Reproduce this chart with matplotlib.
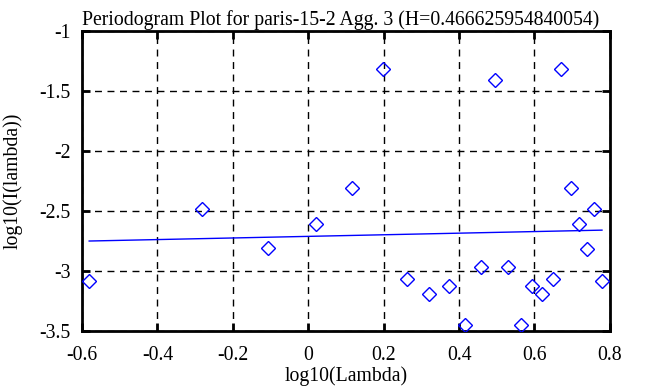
import numpy as np
import matplotlib
matplotlib.use("Agg")
import matplotlib.pyplot as plt

# periodogram points
log_lambda = [-0.581, -0.281, -0.106, 0.020, 0.116, 0.197, 0.261, 0.320, 0.372,
              0.417, 0.459, 0.496, 0.531, 0.563, 0.593, 0.620, 0.648, 0.671,
              0.696, 0.718, 0.739, 0.759, 0.779]
log_I = [-3.086, -2.483, -2.814, -2.608, -2.308, -1.317, -3.067, -3.194, -3.130,
         -3.455, -2.972, -1.413, -2.972, -3.455, -3.127, -3.194, -3.067, -1.317,
         -2.308, -2.608, -2.819, -2.483, -3.083]

H = 0.466625954840054
slope = 1 - 2 * H          # periodogram fit slope
intercept = -2.714

plt.rcParams["font.family"] = ["Liberation Serif", "DejaVu Serif"]
FS = 14.2

fig = plt.figure(figsize=(6.53, 3.87), dpi=100)
ax = fig.add_axes([0.1256, 0.1455, 0.934 - 0.1256, 0.9207 - 0.1455])

ax.plot(log_lambda, log_I, "D", mfc="none", mec="#0000ff", ms=7.5, mew=1.0, zorder=3)
xs = np.array([min(log_lambda), max(log_lambda)])
ax.plot(xs, intercept + slope * xs, color="#0000ff", lw=1.0, zorder=3)

ax.set_xlim(-0.6, 0.8); ax.set_ylim(-3.5, -1)
ax.set_xticks(np.arange(-0.6, 0.81, 0.2))
ax.set_yticks(np.arange(-3.5, -0.99, 0.5))
ax.set_xticklabels(["-0.6", "-0.4", "-0.2", "0", "0.2", "0.4", "0.6", "0.8"])
ax.set_yticklabels(["-3.5", "-3", "-2.5", "-2", "-1.5", "-1"])
ax.tick_params(direction="in", length=6, width=2, labelsize=FS, top=True, right=True)
ax.tick_params(axis="x", pad=11)
ax.tick_params(axis="y", pad=8)
for t in ax.get_yticklabels(): t.set_va("center_baseline")
ax.grid(True, color="black", ls=(0, (5, 4)), lw=1.0)
for sp in ax.spines.values(): sp.set_linewidth(2)

ax.set_title("Periodogram Plot for paris-15-2 Agg. 3 (H=%s)" % repr(H), fontsize=FS, pad=4, x=0.49)
ax.set_xlabel("log10(Lambda)", fontsize=FS, labelpad=1)
ax.set_ylabel("log10(I(lambda))", fontsize=FS, labelpad=12)

fig.savefig("out.png", dpi=100)
